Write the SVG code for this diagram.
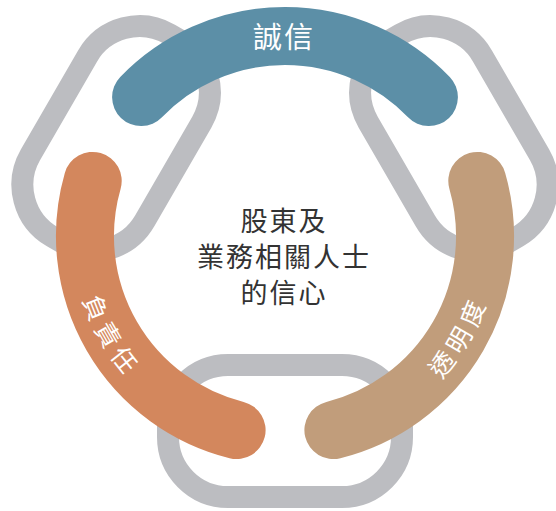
<svg xmlns="http://www.w3.org/2000/svg" width="556" height="511" viewBox="0 0 556 511">
  <defs>
    <style>
      .link { fill: none; stroke: #BCBDC1; stroke-width: 22; }
      .arc { fill: none; stroke-width: 58; stroke-linecap: round; }
      .lbl { fill: #FFFFFF; font-family: "Noto Sans CJK TC", "Noto Sans CJK SC", sans-serif; }
      .ctr { fill: #333333; font-family: "Noto Sans CJK TC", "Noto Sans CJK SC", sans-serif; font-size: 27px; letter-spacing: 2px; text-anchor: middle; }
    </style>
    <rect id="linkShape" x="168" y="365" width="234" height="132" rx="60" ry="60"/>
    <path id="pathOrange" d="M 73,236 A 212,212 0 0 0 179,419.6"/>
    <path id="pathTan" d="M 391,419.6 A 212,212 0 0 0 497,236"/>
  </defs>
  <rect width="556" height="511" fill="#FFFFFF"/>

  <g id="link-bottom">
    <use href="#linkShape" class="link"/>
  </g>
  <g id="link-top-left">
    <use href="#linkShape" class="link" transform="rotate(120 285 236)"/>
  </g>
  <g id="link-top-right">
    <use href="#linkShape" class="link" transform="rotate(-120 285 236)"/>
  </g>

  <g id="arc-integrity">
    <path class="arc" stroke="#5C8FA7" d="M 141.1,97.1 A 200,200 0 0 1 428.9,97.1"/>
    <text class="lbl" x="284" y="48" font-size="29" letter-spacing="2" text-anchor="middle">誠信</text>
  </g>
  <g id="arc-accountability">
    <path class="arc" stroke="#D3875D" d="M 92.7,180.9 A 200,200 0 0 0 236.6,430.1"/>
    <text class="lbl" font-size="25" letter-spacing="6"><textPath href="#pathOrange" startOffset="50%" text-anchor="middle">負責任</textPath></text>
  </g>
  <g id="arc-transparency">
    <path class="arc" stroke="#C19D7B" d="M 477.3,180.9 A 200,200 0 0 1 333.4,430.1"/>
    <text class="lbl" font-size="25" letter-spacing="6"><textPath href="#pathTan" startOffset="50%" text-anchor="middle">透明度</textPath></text>
  </g>

  <g id="center-text">
    <text class="ctr" x="284" y="231">股東及</text>
    <text class="ctr" x="284" y="267">業務相關人士</text>
    <text class="ctr" x="284" y="303">的信心</text>
  </g>
</svg>
